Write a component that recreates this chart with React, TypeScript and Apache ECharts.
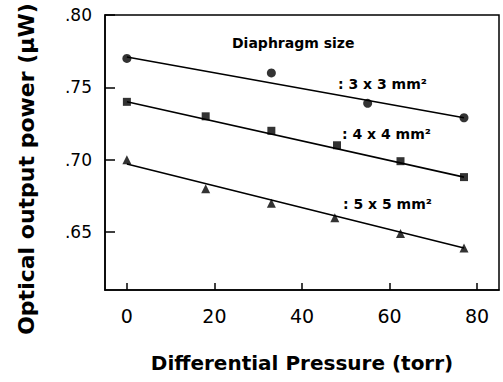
import React, { useEffect, useRef } from "react";
import * as echarts from "echarts";

const xTicks = [0, 20, 40, 60, 80];
const yTicks = [0.65, 0.7, 0.75, 0.8];

const circleX = [0, 33, 55, 77];
const circleY = [0.770, 0.760, 0.739, 0.729];
const squareX = [0, 18, 33, 48, 62.5, 77];
const squareY = [0.740, 0.730, 0.720, 0.710, 0.699, 0.688];
const triangleX = [0, 18, 33, 47.5, 62.5, 77];
const triangleY = [0.700, 0.680, 0.670, 0.660, 0.649, 0.639];

const fitX = [0, 77];
const fitCircle = [0.771, 0.729];
const fitSquare = [0.740, 0.688];
const fitTriangle = [0.697, 0.639];

const labels = [": 3 x 3 mm²", ": 4 x 4 mm²", ": 5 x 5 mm²"];
const legendTitle = "Diaphragm size";

const zip = (xs: number[], ys: number[]) => xs.map((x, i) => [x, ys[i]]);

export default function App() {
  const ref = useRef<HTMLDivElement>(null);
  useEffect(() => {
    const chart = echarts.init(ref.current!, undefined, { renderer: "svg" });
    const bold = "DejaVu Sans";
    const scatter = (data: number[][], symbol: string, size: number) => ({
      type: "scatter",
      data,
      symbol,
      symbolSize: size,
      itemStyle: { color: "#000" },
      z: 3,
    });
    const line = (ys: number[]) => ({
      type: "line",
      data: zip(fitX, ys),
      showSymbol: false,
      symbol: "none",
      lineStyle: { color: "#000", width: 1.6 },
      z: 2,
    });
    chart.setOption({
      animation: false,
      grid: {
        left: 105,
        right: 4,
        top: 15,
        bottom: 92,
        show: true,
        borderColor: "#000",
        borderWidth: 1.5,
        backgroundColor: "transparent",
      },
      xAxis: {
        type: "value",
        min: -5,
        max: 85,
        name: "Differential Pressure (torr)",
        nameLocation: "middle",
        nameGap: 63,
        nameTextStyle: { fontFamily: bold, fontWeight: "bold", fontSize: 20, color: "#000" },
        axisLine: { show: true, onZero: false, lineStyle: { color: "#000", width: 1.5 } },
        axisTick: { show: true, inside: true, length: 7, customValues: xTicks, lineStyle: { color: "#000", width: 1.5 } },
        axisLabel: { customValues: xTicks, fontFamily: "DejaVu Sans", fontSize: 19, color: "#000", margin: 16 },
        splitLine: { show: false },
      },
      yAxis: {
        type: "value",
        min: 0.61,
        max: 0.8,
        axisLine: { show: true, onZero: false, lineStyle: { color: "#000", width: 1.5 } },
        axisTick: { show: true, inside: true, length: 10, customValues: yTicks, lineStyle: { color: "#000", width: 1.5 } },
        axisLabel: {
          customValues: yTicks,
          fontFamily: "DejaVu Sans",
          fontSize: 17,
          color: "#000",
          margin: 13,
          padding: [6, 0, 0, 0],
          formatter: (v: number) => v.toFixed(2).replace(/^0/, ""),
        },
        splitLine: { show: false },
      },
      graphic: [
        {
          type: "text",
          x: 26,
          y: 169,
          rotation: Math.PI / 2,
          style: {
            text: "Optical output power (µW)",
            font: `bold 22px ${bold}`,
            fill: "#000",
            textAlign: "center",
            textVerticalAlign: "middle",
          },
        },
        {
          type: "text",
          x: 232,
          y: 43,
          style: { text: legendTitle, font: `bold 14px ${bold}`, fill: "#000", textVerticalAlign: "middle" },
        },
        {
          type: "text",
          x: 338,
          y: 84,
          style: { text: labels[0], font: `bold 14px ${bold}`, fill: "#000", textVerticalAlign: "middle" },
        },
        {
          type: "text",
          x: 342,
          y: 134,
          style: { text: labels[1], font: `bold 14px ${bold}`, fill: "#000", textVerticalAlign: "middle" },
        },
        {
          type: "text",
          x: 343,
          y: 204,
          style: { text: labels[2], font: `bold 14px ${bold}`, fill: "#000", textVerticalAlign: "middle" },
        },
      ],
      series: [
        line(fitCircle),
        line(fitSquare),
        line(fitTriangle),
        scatter(zip(circleX, circleY), "circle", 9),
        scatter(zip(squareX, squareY), "rect", 8),
        scatter(zip(triangleX, triangleY), "triangle", 9),
      ],
    });
    return () => chart.dispose();
  }, []);
  return <div ref={ref} style={{ width: 503, height: 382, position: "absolute", left: 0, top: 0 }} />;
}
